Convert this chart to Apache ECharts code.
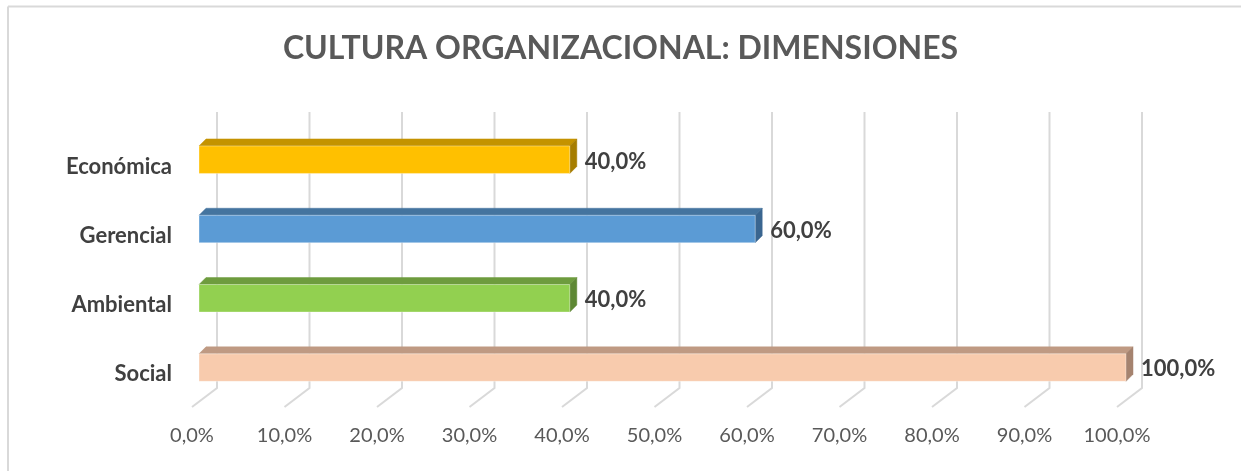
<!DOCTYPE html>
<html>
<head>
<meta charset="utf-8">
<script src="https://cdn.jsdelivr.net/npm/echarts@6/dist/echarts.min.js"></script>
<style>html,body{margin:0;padding:0;background:#fff;}#c{width:1241px;height:471px;}</style>
</head>
<body>
<div id="c"></div>
<script>
// ---- data ----
var categories = ['Social', 'Ambiental', 'Gerencial', 'Económica'];
var values = [100, 40, 60, 40];
var xTicks = [0, 10, 20, 30, 40, 50, 60, 70, 80, 90, 100];
var titleText = 'CULTURA ORGANIZACIONAL: DIMENSIONES';

// ---- styles ----
var faceColors = ['#F8CBAD', '#92D050', '#5B9BD5', '#FFC000'];
var topColors  = ['#BF9A83', '#6E9C3E', '#44749F', '#C49300'];
var sideColors = ['#A5836F', '#5E8834', '#3A6690', '#A67D00'];
var DEPTH = 7;
var WALL_DX = 25, WALL_DY = 19;

function fmt(v) { return v.toFixed(1).replace('.', ',') + '%'; }

var chart = echarts.init(document.getElementById('c'), null, {renderer: 'canvas'});

var option = {
  backgroundColor: '#ffffff',
  animation: false,
  title: {
    text: titleText,
    left: 'center',
    top: 28,
    textStyle: {fontFamily: 'Lato', fontWeight: 'bold', fontSize: 32, color: '#595959'}
  },
  graphic: [
    {type: 'line', shape: {x1: 8, y1: 6.5, x2: 1241, y2: 6.5}, style: {stroke: '#d9d9d9', lineWidth: 2}, silent: true},
    {type: 'line', shape: {x1: 8, y1: 6.5, x2: 8, y2: 471}, style: {stroke: '#d9d9d9', lineWidth: 2}, silent: true}
  ],
  grid: [
    {left: 192, width: 925, top: 112, height: 295},
    {left: 199, width: 927, top: 131.8, height: 277.2}
  ],
  xAxis: [
    {
      gridIndex: 0, type: 'value', min: 0, max: 100, interval: 10,
      axisLine: {show: false}, axisTick: {show: false}, splitLine: {show: false},
      axisLabel: {
        margin: 19, formatter: fmt,
        fontFamily: 'Lato', fontSize: 20, color: '#595959'
      }
    },
    {
      gridIndex: 1, type: 'value', min: 0, max: 100, show: false
    }
  ],
  yAxis: [
    {gridIndex: 0, type: 'value', min: 0, max: 1, show: false},
    {
      gridIndex: 1, type: 'category', data: categories,
      axisLine: {show: false}, axisTick: {show: false}, splitLine: {show: false},
      axisLabel: {margin: 27, fontFamily: 'Lato', fontWeight: 'bold', fontSize: 22, color: '#404040'}
    }
  ],
  series: [
    {
      type: 'custom', xAxisIndex: 0, yAxisIndex: 0, silent: true, z: 1,
      data: xTicks.map(function (v) { return [v]; }),
      renderItem: function (params, api) {
        var b = api.coord([api.value(0), 0]);
        var t = api.coord([api.value(0), 1]);
        return {
          type: 'polyline',
          shape: {points: [[b[0] + WALL_DX, t[1]], [b[0] + WALL_DX, b[1] - WALL_DY], [b[0], b[1]]]},
          style: {stroke: '#d9d9d9', lineWidth: 2, fill: null}
        };
      }
    },
    {
      type: 'custom', xAxisIndex: 1, yAxisIndex: 1, silent: true, z: 2,
      data: values.map(function (v, i) { return [v, i]; }),
      renderItem: function (params, api) {
        var i = api.value(1);
        var end = api.coord([api.value(0), i]);
        var start = api.coord([0, i]);
        var x0 = start[0], x1 = end[0], yc = end[1];
        var ft = yc - 20.5, fb = yc + 7;
        var d = DEPTH;
        return {
          type: 'group',
          children: [
            {type: 'polygon', shape: {points: [[x0, ft], [x0 + d, ft - d], [x1 + d, ft - d], [x1, ft]]},
             style: {fill: topColors[i], stroke: topColors[i], lineWidth: 0.5}},
            {type: 'polygon', shape: {points: [[x1, ft], [x1 + d, ft - d], [x1 + d, fb - d], [x1, fb]]},
             style: {fill: sideColors[i], stroke: sideColors[i], lineWidth: 0.5}},
            {type: 'rect', shape: {x: x0, y: ft, width: x1 - x0, height: fb - ft},
             style: {fill: faceColors[i], stroke: 'rgba(255,255,255,0.35)', lineWidth: 1}},
            {type: 'text', x: x1 + d + 8, y: yc - 5,
             style: {text: fmt(api.value(0)), fontFamily: 'Lato', fontWeight: 'bold', fontSize: 22,
                     fill: '#404040', verticalAlign: 'middle', align: 'left'}}
          ]
        };
      }
    }
  ]
};
chart.setOption(option);
</script>
</body>
</html>
